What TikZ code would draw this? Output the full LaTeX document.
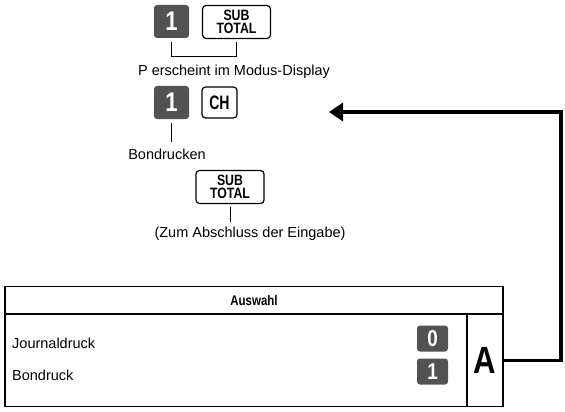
\documentclass[tikz,border=0pt]{standalone}
\usepackage{fontspec}
\setmainfont{Liberation Sans}
\newfontfamily\narrowfont[FakeStretch=0.82]{Liberation Sans}
\newfontfamily\chfont[FakeStretch=0.72]{Liberation Sans}
\usetikzlibrary{arrows.meta}
\definecolor{keygray}{HTML}{525252}
\tikzset{
  numkey/.style={draw=none, fill=keygray, rounded corners=3pt, minimum width=35pt, minimum height=33pt, inner sep=0pt, text=white, font=\fontsize{27}{27}\narrowfont\bfseries},
  smallkey/.style={numkey, minimum width=31pt, minimum height=26pt, font=\fontsize{23}{23}\narrowfont\bfseries},
  fnkey/.style={draw=black, line width=1.2pt, fill=white, rounded corners=3.5pt, minimum width=68pt, minimum height=33pt, inner sep=0pt, align=center, font=\fontsize{15}{13.5}\narrowfont\bfseries},
  chkey/.style={draw=black, line width=1.2pt, fill=white, rounded corners=3.5pt, minimum width=35pt, minimum height=31pt, inner sep=0pt, font=\fontsize{19.5}{19.5}\chfont\bfseries},
  lbl/.style={inner sep=0pt, anchor=base, font=\fontsize{14.5}{14.5}\selectfont},
  thin/.style={line width=1pt},
  frame/.style={line width=1.6pt},
  flow/.style={line width=3.3pt, -{Triangle[length=14pt,width=18pt]}}
}
\begin{document}
\begin{tikzpicture}[x=1pt,y=-1pt]
\useasboundingbox (0,0) rectangle (565,412);
% row 1
\node[numkey] (k1a) at (171.5,21.5) {1};
\node[fnkey] (st1) at (236.5,22) {SUB\\TOTAL};
\coordinate (b1) at (171.5,57);
\coordinate (b2) at (236.5,57);
\draw[thin] ([yshift=-3.5pt]k1a.south) -- (b1) -- (b2) -- ([yshift=-2.5pt]st1.south);
\node[lbl] (t1) at (234,76) {P erscheint im Modus-Display};
% row 2
\node[numkey] (k1b) at (171.5,102.5) {1};
\node[chkey] (ch) at (219.5,102.5) {CH};
\coordinate (tk) at (171.5,142);
\draw[thin] ([yshift=-3.5pt]k1b.south) -- (tk);
\node[lbl] (t2) at (167,159) {Bondrucken};
% row 3
\node[fnkey] (st2) at (230,187) {SUB\\TOTAL};
\coordinate (tk2) at (230,222);
\draw[thin] ([yshift=-2.5pt]st2.south) -- (tk2);
\node[lbl] (t3) at (250,237.5) {(Zum Abschluss der Eingabe)};
% table
\draw[frame] (5,286.5) rectangle (503,406.5);
\draw[frame] (5,314) -- (503,314);
\draw[frame] (467,314) -- (467,406.5);
\node[inner sep=0pt, anchor=base, font=\fontsize{14}{14}\narrowfont\bfseries] (hd) at (254,305) {Auswahl};
\node[lbl, anchor=base west] (j) at (12,348) {Journaldruck};
\node[lbl, anchor=base west] (b) at (12,380) {Bondruck};
\node[smallkey] (k0) at (432.5,338.5) {0};
\node[smallkey] (k1c) at (432.5,371.5) {1};
\node[minimum width=36pt, minimum height=92pt, inner sep=0pt, font=\fontsize{38}{38}\narrowfont\bfseries] (A) at (485,360.5) {A};
% connector
\coordinate (c1) at (561,360.5);
\coordinate (c2) at (561,112);
\coordinate (tip) at (329,112);
\draw[flow] (A.east) -- (c1) -- (c2) -- (tip);
\end{tikzpicture}
\end{document}
